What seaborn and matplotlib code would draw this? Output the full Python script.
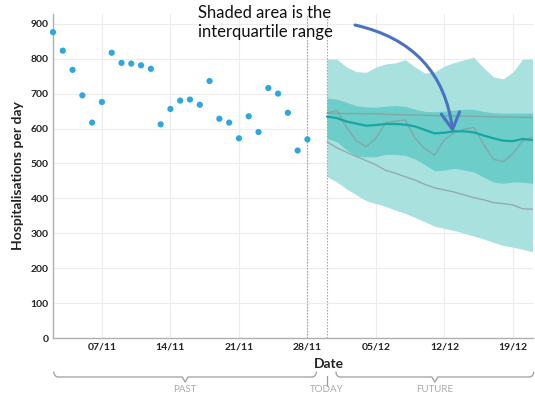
import numpy as np
import pandas as pd
import matplotlib
matplotlib.use("Agg")
import matplotlib.pyplot as plt
import matplotlib.dates as mdates
from matplotlib.transforms import blended_transform_factory
import seaborn as sns

# Observed daily hospitalisations
past_dates = pd.date_range("2020-11-02", "2020-11-28", freq="D")
past_values = [876, 823, 768, 695, 617, 676, 817, 788, 786, 781, 771, 612, 656, 680,
               683, 668, 736, 628, 617, 572, 635, 590, 716, 700, 645, 537, 569]

# Projection from today onwards
forecast_dates = pd.date_range("2020-11-30", "2020-12-21", freq="D")
outer_upper = [799, 799, 776, 763, 761, 776, 785, 788, 797, 776, 759, 762, 779, 789,
               797, 804, 774, 748, 742, 762, 799, 799]
inner_upper = [687, 684, 675, 665, 662, 661, 664, 666, 663, 655, 649, 648, 650, 653,
               655, 655, 649, 645, 644, 644, 644, 644]
median = [634, 630, 620, 614, 608, 610, 613, 613, 611, 606, 596, 586, 588, 592,
          592, 589, 580, 572, 565, 564, 570, 567]
inner_lower = [572, 562, 539, 521, 519, 519, 526, 526, 523, 513, 496, 479, 481, 486,
               481, 476, 461, 447, 443, 447, 446, 443]
outer_lower = [462, 447, 427, 410, 393, 385, 377, 366, 357, 345, 333, 320, 314, 308,
               300, 292, 284, 274, 265, 260, 254, 247]

# Individual model trajectories
traj_flat = [644, 643, 643, 643, 642, 642, 641, 640, 639, 639, 638, 637, 636, 636,
             635, 635, 634, 634, 633, 633, 632, 632]
traj_wavy = [644, 652, 603, 565, 548, 572, 617, 621, 625, 572, 542, 524, 568, 588,
             598, 603, 555, 512, 505, 528, 565, 575]
traj_low = [562, 545, 532, 520, 508, 496, 480, 472, 462, 452, 440, 430, 424, 418,
            410, 402, 396, 388, 385, 381, 370, 369]

last_obs_date = pd.Timestamp("2020-11-28")
today = pd.Timestamp("2020-11-30")
tick_dates = pd.date_range("2020-11-07", "2020-12-19", freq="7D")
y_ticks = list(range(0, 1000, 100))

sns.set_theme(style="whitegrid")
plt.rcParams["font.family"] = ["Lato", "DejaVu Sans"]

W, H = 535, 397
fig = plt.figure(figsize=(W / 100, H / 100), dpi=100)
ax = fig.add_axes([53 / W, 1 - 338 / H, (532.5 - 53) / W, (338 - 14) / H])

past_df = pd.DataFrame({"date": past_dates, "value": past_values})
fc_df = pd.DataFrame({"date": forecast_dates, "median": median,
                      "flat": traj_flat, "wavy": traj_wavy, "low": traj_low})

# uncertainty bands
ax.fill_between(forecast_dates, outer_lower, outer_upper, color="#a9e1de", lw=0, zorder=1)
ax.fill_between(forecast_dates, inner_lower, inner_upper, color="#6dcdc9", lw=0, zorder=2)

for col in ["flat", "wavy", "low"]:
    sns.lineplot(data=fc_df, x="date", y=col, ax=ax, color="#8a9a9a", lw=1.0,
                 alpha=0.75, zorder=3)
sns.lineplot(data=fc_df, x="date", y="median", ax=ax, color="#17a6a1", lw=1.6, zorder=4)

sns.scatterplot(data=past_df, x="date", y="value", ax=ax, color="#2ea7df", s=20,
                edgecolor="none", zorder=5, clip_on=False)

for d in [last_obs_date, today]:
    ax.axvline(d, color="#9a9a9a", ls=(0, (1.2, 1.5)), lw=0.8, zorder=3)

ax.set_xlim(pd.Timestamp("2020-11-02"), pd.Timestamp("2020-12-21"))
ax.set_ylim(0, 928)
ax.set_yticks(y_ticks)
ax.set_xticks(tick_dates)
ax.xaxis.set_major_formatter(mdates.DateFormatter("%d/%m"))

ax.grid(True, color="#ececec", lw=0.8)
ax.set_axisbelow(True)
for side in ["top", "right"]:
    ax.spines[side].set_visible(False)
for side in ["left", "bottom"]:
    ax.spines[side].set_visible(True)
    ax.spines[side].set_color("#b0b0b0")
    ax.spines[side].set_linewidth(1.0)

ax.tick_params(axis="both", length=0, pad=3, labelsize=7.5, colors="#222222")
for lab in ax.get_xticklabels() + ax.get_yticklabels():
    lab.set_fontweight("bold")

ax.set_ylabel("Hospitalisations per day", fontsize=10, fontweight="bold", color="#222222")
ax.yaxis.set_label_coords(-0.060, 0.5)
ax.set_xlabel("Date", fontsize=10, fontweight="bold", color="#222222")
ax.xaxis.set_label_coords(0.576, -0.062)

# note with curved arrow
fig.text(198 / W, 1 - 5 / H, "Shaded area is the\ninterquartile range", ha="left", va="top",
         fontsize=12, color="#111111", linespacing=1.25, family=["Lato", "DejaVu Sans"])
ax.annotate("", xy=(pd.Timestamp("2020-12-12 21:00"), 588), xycoords="data",
            xytext=(355, H - 25), textcoords="figure pixels",
            arrowprops=dict(arrowstyle="->,head_length=1.0,head_width=0.55",
                            mutation_scale=12, color="#4a72c0", lw=2.2,
                            connectionstyle="arc3,rad=-0.35", shrinkA=0, shrinkB=0))

# timeline braces under the axis
trans = blended_transform_factory(ax.transData, fig.transFigure)
y_line = 1 - 377 / H
y_top = 1 - 372 / H
y_tip = 1 - 382 / H
bracket_col = "#9c9c9c"


def brace(start, end):
    x0 = mdates.date2num(start)
    x1 = mdates.date2num(end)
    xc = (x0 + x1) / 2
    r = 0.45
    t = np.linspace(0, np.pi / 2, 8)
    left_x = x0 + r - r * np.cos(t)
    left_y = y_line + (y_top - y_line) * (1 - np.sin(t))
    right_x = x1 - r + r * np.cos(t[::-1])
    right_y = y_line + (y_top - y_line) * (1 - np.sin(t[::-1]))
    xs = np.concatenate([left_x, [xc - 0.3, xc, xc + 0.3], right_x])
    ys = np.concatenate([left_y, [y_line, y_tip, y_line], right_y])
    fig.add_artist(plt.Line2D(xs, ys, transform=trans, color=bracket_col, lw=0.9))
    return xc


pc = brace(pd.Timestamp("2020-11-02 02:00"), pd.Timestamp("2020-11-28 22:00"))
fig.text(pc, 1 - 389 / H, "PAST", transform=trans, ha="center", va="center",
         fontsize=7, color="#aaaaaa")
tx = mdates.date2num(today)
fig.add_artist(plt.Line2D([tx, tx], [y_line + 0.002, 1 - 386 / H], transform=trans,
                          color=bracket_col, lw=0.9))
fig.text(tx, 1 - 390 / H, "TODAY", transform=trans, ha="center", va="center",
         fontsize=7, color="#aaaaaa")
fc = brace(pd.Timestamp("2020-11-30 22:00"), pd.Timestamp("2020-12-21 03:00"))
fig.text(fc, 1 - 389 / H, "FUTURE", transform=trans, ha="center", va="center",
         fontsize=7, color="#aaaaaa")

fig.savefig("out.png", dpi=100)
